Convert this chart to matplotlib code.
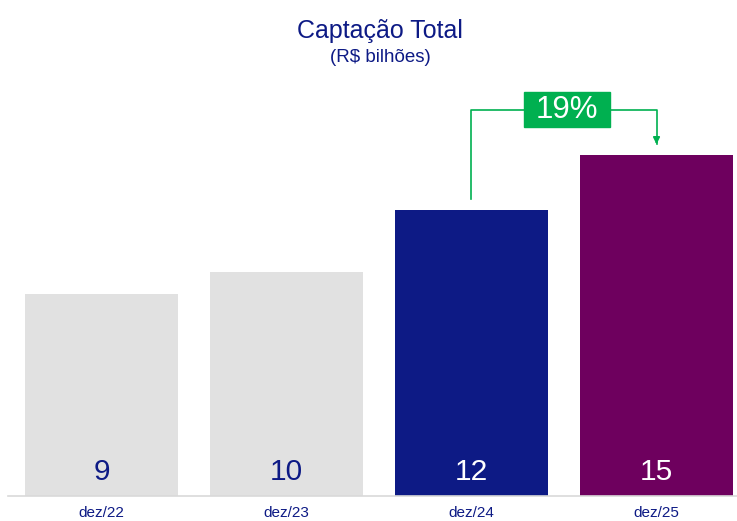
import matplotlib.pyplot as plt
from matplotlib.patches import Rectangle

plt.rcParams['font.family'] = ['Liberation Sans', 'DejaVu Sans']

periods = ['dez/22', 'dez/23', 'dez/24', 'dez/25']
values = [8.9, 9.85, 12.6, 15.0]
labels = ['9', '10', '12', '15']
growth = '19%'

colors = ['#E1E1E1', '#E1E1E1', '#0D1A85', '#6E005E']
label_colors = ['#0D1A85', '#0D1A85', 'white', 'white']
navy = '#0D1A85'
green = '#00B050'

fig = plt.figure(figsize=(7.37, 5.21), dpi=100)
ax = fig.add_axes([8 / 737, 25 / 521, 729 / 737, 396 / 521])

x = list(range(len(periods)))
ax.bar(x, values, width=0.827, color=colors)
ax.set_xlim(-0.505, 3.435)
ax.set_ylim(0, 15 * 396 / 341)

for xi, lab, c in zip(x, labels, label_colors):
    ax.text(xi, 0.42, lab, ha='center', va='bottom', fontsize=21.5, color=c)

ax.set_xticks(x)
ax.set_xticklabels(periods, fontsize=11, color=navy)
ax.tick_params(axis='x', length=0, pad=7.5)
ax.set_yticks([])
for s in ['top', 'right', 'left']:
    ax.spines[s].set_visible(False)
ax.spines['bottom'].set_color('#D9D9D9')
ax.spines['bottom'].set_linewidth(1.2)

# growth bracket
y_line = 17.0
ax.plot([2, 2, 3, 3], [values[2] + 0.45, y_line, y_line, values[3] + 0.5],
        color=green, lw=1.2, clip_on=False)
ax.annotate('', xy=(3, values[3] + 0.35), xytext=(3, values[3] + 0.75),
            arrowprops=dict(arrowstyle='-|>', color=green, lw=1.2, mutation_scale=10))
bw, bh = 86 / 185, 35 / 22.73
ax.add_patch(Rectangle((2.516 - bw / 2, y_line - bh / 2), bw, bh, color=green, zorder=3, clip_on=False))
ax.text(2.516, y_line, growth, ha='center', va='center', fontsize=22.5, color='white', zorder=4)

fig.text(380 / 737, 1 - 31 / 521, 'Captação Total', ha='center', va='center', fontsize=18, color=navy)
fig.text(380 / 737, 1 - 57 / 521, '(R$ bilhões)', ha='center', va='center', fontsize=13.5, color=navy)

fig.savefig('out.png', dpi=100)
